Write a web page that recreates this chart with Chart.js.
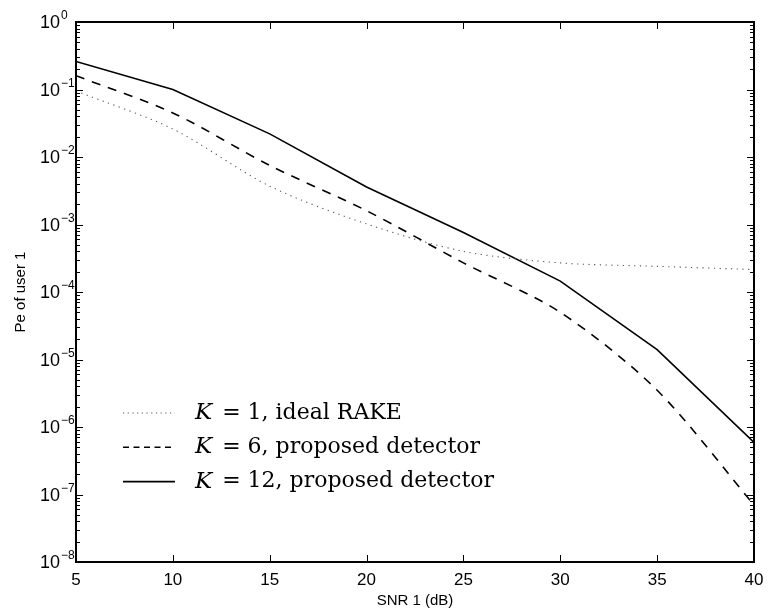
<!DOCTYPE html>
<html>
<head>
<meta charset="utf-8">
<script src="https://cdn.jsdelivr.net/npm/chart.js@4/dist/chart.umd.min.js"></script>
<style>
  html, body { margin: 0; padding: 0; background: #fff; }
  #wrap { width: 768px; height: 611px; position: relative; }
</style>
</head>
<body>
<div id="wrap"><canvas id="peChart"></canvas></div>
<script>
// SNR of user 1 (dB) and error probability
const snrDb = [5, 10, 15, 20, 25, 30, 35, 40];
const peIdealRake = [0.095, 0.026, 0.0037, 0.00102, 0.00040, 0.00027, 0.00024, 0.000215];
const peK6 = [0.16, 0.045, 0.0075, 0.0016, 0.00027, 0.00005, 0.0000035, 0.00000007];
const peK12 = [0.26, 0.10, 0.022, 0.0036, 0.00076, 0.000145, 0.000014, 0.00000059];

const xTickValues = [5, 10, 15, 20, 25, 30, 35, 40];
const yDecades = [0, -1, -2, -3, -4, -5, -6, -7, -8];
const legendK = ["1", "6", "12"];
const legendText = ["ideal RAKE", "proposed detector", "proposed detector"];
const xTitle = "SNR 1 (dB)";
const yTitle = "Pe of user 1";

const toPoints = (ys) => snrDb.map((x, i) => ({ x: x, y: ys[i] }));

// tick marks, frame, labels and the legend — MATLAB look
const frameAndLabels = {
  id: "frameAndLabels",
  afterDraw(chart) {
    const { ctx, chartArea: a, scales: { x, y } } = chart;
    ctx.save();
    ctx.strokeStyle = "#000";
    ctx.lineWidth = 1;

    const seg = (x1, y1, x2, y2) => {
      ctx.beginPath();
      ctx.moveTo(x1, y1);
      ctx.lineTo(x2, y2);
      ctx.stroke();
    };

    // x ticks (inward, bottom + top)
    xTickValues.forEach(v => {
      const px = Math.round(x.getPixelForValue(v)) + 0.5;
      seg(px, a.bottom, px, a.bottom - 7);
      seg(px, a.top, px, a.top + 7);
    });

    // y ticks: decades + minor ones
    yDecades.forEach(d => {
      const py = Math.round(y.getPixelForValue(Math.pow(10, d))) + 0.5;
      seg(a.left, py, a.left + 7, py);
      seg(a.right, py, a.right - 7, py);
      if (d < 0) {
        for (let m = 2; m <= 9; m++) {
          const pm = Math.round(y.getPixelForValue(m * Math.pow(10, d))) + 0.5;
          seg(a.left, pm, a.left + 4, pm);
          seg(a.right, pm, a.right - 4, pm);
        }
      }
    });

    // frame
    ctx.lineWidth = 2;
    ctx.strokeRect(a.left, a.top, a.right - a.left, a.bottom - a.top);

    // x tick labels
    ctx.fillStyle = "#000";
    ctx.font = '17px "Liberation Sans", Arial, sans-serif';
    ctx.textAlign = "center";
    ctx.textBaseline = "alphabetic";
    xTickValues.forEach(v => {
      ctx.fillText(String(v), x.getPixelForValue(v), a.bottom + 23);
    });

    // y tick labels: 10 with raised exponent
    yDecades.forEach(d => {
      const py = y.getPixelForValue(Math.pow(10, d));
      ctx.font = '18px "Liberation Sans", Arial, sans-serif';
      ctx.textAlign = "right";
      ctx.fillText("10", a.left - 16, py + 6);
      ctx.font = '12px "Liberation Sans", Arial, sans-serif';
      ctx.textAlign = "left";
      ctx.fillText(d === 0 ? "0" : "\u2212" + Math.abs(d), a.left - 15, py - 3);
    });

    // axis titles
    ctx.font = '15px "Liberation Sans", Arial, sans-serif';
    ctx.textAlign = "center";
    ctx.fillText(xTitle, (a.left + a.right) / 2, a.bottom + 43);
    ctx.save();
    ctx.translate(25, (a.top + a.bottom) / 2);
    ctx.rotate(-Math.PI / 2);
    ctx.fillText(yTitle, 0, 0);
    ctx.restore();

    // legend inside the plot
    const lx = a.left + 47, tx = a.left + 119, ly0 = a.top + 391, dy = 34.3;
    chart.data.datasets.forEach((ds, i) => {
      const ly = ly0 + i * dy;
      ctx.strokeStyle = ds.borderColor;
      ctx.lineWidth = ds.borderWidth;
      ctx.setLineDash(ds.legendDash);
      seg(lx, ly, lx + 52, ly);
      ctx.setLineDash([]);
      ctx.fillStyle = "#000";
      ctx.textAlign = "left";
      ctx.textBaseline = "middle";
      ctx.font = 'italic 23px "DejaVu Serif", "Liberation Serif", serif';
      ctx.fillText("K", tx, ly);
      const cx = tx + ctx.measureText("K").width;
      ctx.font = '22px "DejaVu Serif", "Liberation Serif", serif';
      ctx.fillText(" = " + legendK[i] + ", " + legendText[i], cx + 3, ly);
    });

    ctx.restore();
  }
};

new Chart(document.getElementById("peChart").getContext("2d"), {
  type: "line",
  data: {
    datasets: [
      {
        label: "K = " + legendK[0] + ", " + legendText[0],
        data: toPoints(peIdealRake),
        borderColor: "#555",
        borderWidth: 1.1,
        borderDash: [1.2, 4.5],
        legendDash: [1.2, 3.5],
        pointRadius: 0,
        tension: 0.3,
        fill: false
      },
      {
        label: "K = " + legendK[1] + ", " + legendText[1],
        data: toPoints(peK6),
        borderColor: "#000",
        borderWidth: 1.6,
        borderDash: [9, 8],
        legendDash: [6, 4.5],
        pointRadius: 0,
        tension: 0.3,
        fill: false
      },
      {
        label: "K = " + legendK[2] + ", " + legendText[2],
        data: toPoints(peK12),
        borderColor: "#000",
        borderWidth: 1.6,
        borderDash: [],
        legendDash: [],
        pointRadius: 0,
        tension: 0,
        fill: false
      }
    ]
  },
  options: {
    responsive: true,
    maintainAspectRatio: false,
    animation: false,
    layout: { padding: { top: 22, right: 14, left: 0, bottom: 0 } },
    plugins: {
      legend: { display: false },
      tooltip: { enabled: false }
    },
    scales: {
      x: {
        type: "linear",
        min: 5,
        max: 40,
        grid: { display: false },
        border: { display: false },
        ticks: { display: false },
        afterFit: (s) => { s.height = 49; }
      },
      y: {
        type: "logarithmic",
        min: 1e-8,
        max: 1,
        grid: { display: false },
        border: { display: false },
        ticks: { display: false },
        afterFit: (s) => { s.width = 76; }
      }
    }
  },
  plugins: [frameAndLabels]
});
</script>
</body>
</html>
